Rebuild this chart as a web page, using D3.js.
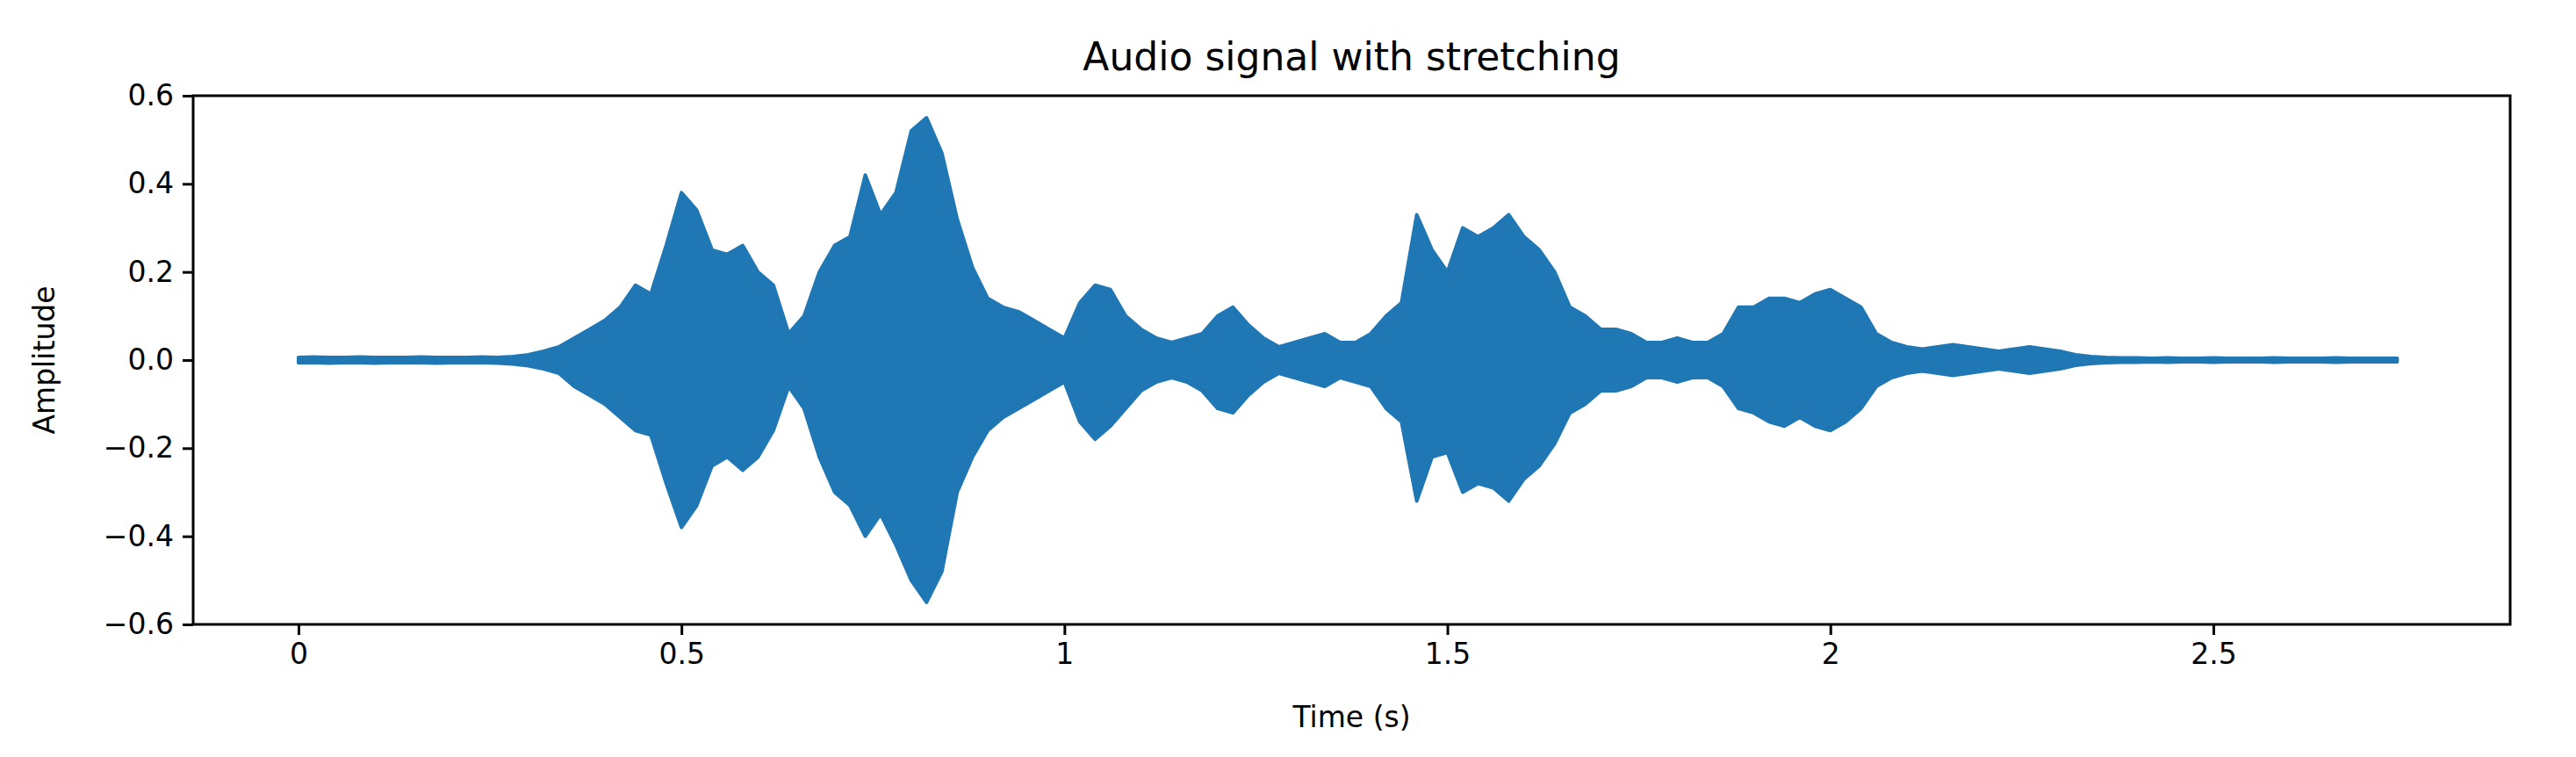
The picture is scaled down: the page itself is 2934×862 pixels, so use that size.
<!DOCTYPE html>
<html>
<head>
<meta charset="utf-8">
<script src="https://cdnjs.cloudflare.com/ajax/libs/d3/7.8.5/d3.min.js"></script>
<style>
body { margin: 0; background: #fff; }
text { font-family: "DejaVu Sans", sans-serif; fill: #000; }
</style>
</head>
<body>
<div id="chart"></div>
<script>
// envelope of the waveform, sampled every 0.02 s from 0 to 2.74 s
var step = 0.02;
var upper = [
.006,.007,.006,.006,.007,.006,.006,.006,.007,.006,.006,.006,.007,.006,.008,.012,
.02,.03,.05,.07,.09,.12,.17,.15,.26,.38,.34,.25,.24,.26,.20,.17,.06,
.10,.20,.26,.28,.42,.33,.38,.52,.55,.47,.32,.21,.14,.12,.11,.09,.07,
.05,.13,.17,.16,.10,.07,.05,.04,.05,.06,.10,.12,.08,.05,.03,.04,.05,
.06,.04,.04,.06,.10,.13,.33,.25,.20,.30,.28,.30,.33,.28,.25,.20,.12,
.10,.07,.07,.06,.04,.04,.05,.04,.04,.06,.12,.12,.14,.14,.13,.15,.16,
.14,.12,.06,.04,.03,.025,.03,.035,.03,.025,.02,.025,.03,.025,.02,.012,.008,
.006,.005,.005,.004,.005,.004,.004,.005,.004,.004,.004,.005,.004,.004,.004,.005,.004,.004,.004,.004
];
var lower = [
-.006,-.006,-.007,-.006,-.006,-.007,-.006,-.006,-.006,-.007,-.006,-.006,-.006,-.007,-.009,-.013,
-.02,-.03,-.06,-.08,-.10,-.13,-.16,-.17,-.28,-.38,-.33,-.24,-.22,-.25,-.22,-.16,-.06,
-.11,-.22,-.30,-.33,-.40,-.35,-.42,-.50,-.55,-.48,-.30,-.22,-.16,-.13,-.11,-.09,-.07,
-.05,-.14,-.18,-.15,-.11,-.07,-.05,-.04,-.05,-.07,-.11,-.12,-.08,-.05,-.03,-.04,-.05,
-.06,-.04,-.05,-.06,-.11,-.14,-.32,-.22,-.21,-.30,-.28,-.29,-.32,-.27,-.24,-.19,-.12,
-.10,-.07,-.07,-.06,-.04,-.04,-.05,-.04,-.04,-.06,-.11,-.12,-.14,-.15,-.13,-.15,-.16,
-.14,-.11,-.06,-.04,-.03,-.025,-.03,-.035,-.03,-.025,-.02,-.025,-.03,-.025,-.02,-.012,-.008,
-.006,-.005,-.005,-.004,-.005,-.004,-.004,-.005,-.004,-.004,-.004,-.005,-.004,-.004,-.004,-.005,-.004,-.004,-.004,-.004
];
var xTicks = [0, 0.5, 1, 1.5, 2, 2.5];
var yTicks = [-0.6, -0.4, -0.2, 0.0, 0.2, 0.4, 0.6];

var W = 2934, H = 862;
var plot = {left: 220, right: 2859, top: 109, bottom: 711};

var data = upper.map(function(u, i) { return {t: i * step, hi: u, lo: lower[i]}; });

var x = d3.scaleLinear().domain([-0.1375, 2.8875]).range([plot.left, plot.right]);
var y = d3.scaleLinear().domain([-0.6, 0.6]).range([plot.bottom, plot.top]);

var svg = d3.select("#chart").append("svg")
  .attr("width", W).attr("height", H);

svg.append("path")
  .datum(data)
  .attr("d", d3.area()
    .x(function(d) { return x(d.t); })
    .y0(function(d) { return y(d.lo); })
    .y1(function(d) { return y(d.hi); }))
  .attr("fill", "#1f77b4")
  .attr("stroke", "#1f77b4")
  .attr("stroke-width", 4)
  .attr("stroke-linejoin", "round");

var minus = function(s) { return s.replace("-", "\u2212"); };

var xAxis = svg.append("g")
  .attr("transform", "translate(0," + plot.bottom + ")")
  .call(d3.axisBottom(x).tickValues(xTicks).tickSize(12).tickPadding(10)
    .tickFormat(function(d) { return String(d); }));
var yAxis = svg.append("g")
  .attr("transform", "translate(" + plot.left + ",0)")
  .call(d3.axisLeft(y).tickValues(yTicks).tickSize(12).tickPadding(10)
    .tickFormat(function(d) { return minus(d3.format(".1f")(d)); }));

[xAxis, yAxis].forEach(function(g) {
  g.select(".domain").remove();
  g.selectAll(".tick line").attr("stroke", "#000").attr("stroke-width", 3);
  g.selectAll(".tick text").style("font-size", "33px").attr("fill", "#000");
});

svg.append("rect")
  .attr("x", plot.left).attr("y", plot.top)
  .attr("width", plot.right - plot.left).attr("height", plot.bottom - plot.top)
  .attr("fill", "none").attr("stroke", "#000").attr("stroke-width", 3);

svg.append("text")
  .attr("x", (plot.left + plot.right) / 2).attr("y", 80)
  .attr("text-anchor", "middle").style("font-size", "44px")
  .text("Audio signal with stretching");

svg.append("text")
  .attr("x", (plot.left + plot.right) / 2).attr("y", 828)
  .attr("text-anchor", "middle").style("font-size", "33px")
  .text("Time (s)");

svg.append("text")
  .attr("transform", "translate(62," + ((plot.top + plot.bottom) / 2) + ") rotate(-90)")
  .attr("text-anchor", "middle").style("font-size", "33px")
  .text("Amplitude");
</script>
</body>
</html>
